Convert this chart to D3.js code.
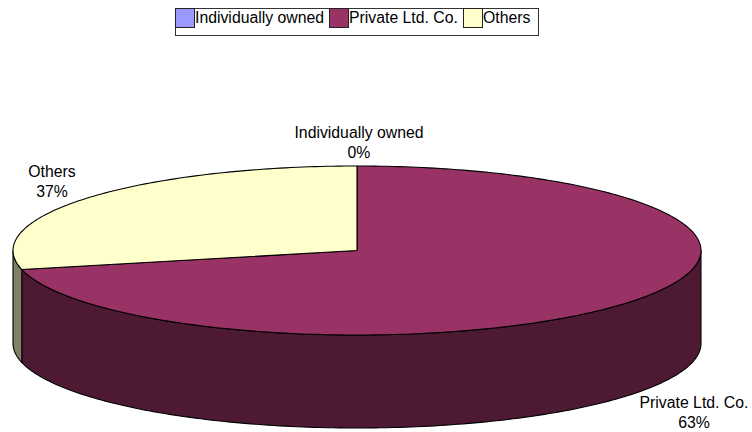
<!DOCTYPE html>
<html><head><meta charset="utf-8">
<script src="https://cdn.jsdelivr.net/npm/d3@7"></script>
<style>html,body{margin:0;padding:0;background:#fff}svg{display:block}text{font-family:"Liberation Sans",Arial,sans-serif;fill:#000}</style>
</head><body><svg id="c" width="752" height="432"></svg>
<script>
const categories = ["Individually owned", "Private Ltd. Co.", "Others"];
const percents = [0, 63, 37];
const topColors = ["#9999FF", "#993366", "#FFFFCC"];
const sideColors = ["#4D4D80", "#4D1933", "#808066"];

const cx = 357, cy = 250.5, rx = 344, ry = 84.5, depth = 93;
const fs = 15.8;
const svg = d3.select("#c");

// Tilted-pie projection: cumulative percent to drawn angle (degrees clockwise from top)
const sweep = d3.scaleLinear().domain([0, 63, 100]).range([0, 257, 360]);
const rad = d => d * Math.PI / 180;
const pX = a => cx + rx * Math.sin(rad(a));
const pY = a => cy - ry * Math.cos(rad(a));
const line = d3.line();

function arcPts(a0, a1, dy) {
  const n = Math.max(2, Math.ceil(Math.abs(a1 - a0)));
  return d3.range(n + 1).map(i => {
    const a = a0 + (a1 - a0) * i / n;
    return [pX(a), pY(a) + dy];
  });
}

let acc = 0;
const slices = percents.map((v, i) => {
  const s = { i, a0: sweep(acc), a1: sweep(acc + v) };
  acc += v;
  return s;
});

const stroke = { stroke: "#000", "stroke-width": 1.1, "stroke-linejoin": "round" };
function applyStroke(sel) { Object.entries(stroke).forEach(([k, v]) => sel.attr(k, v)); return sel; }

// walls, visible on the front half only
slices.forEach(s => {
  const a0 = Math.max(s.a0, 90), a1 = Math.min(s.a1, 270);
  if (a1 <= a0) return;
  const pts = arcPts(a0, a1, 0).concat(arcPts(a1, a0, depth));
  applyStroke(svg.append("path").attr("d", line(pts) + "Z").attr("fill", sideColors[s.i]));
});

// top faces
slices.forEach(s => {
  if (s.a1 <= s.a0) return;
  const pts = [[cx, cy]].concat(arcPts(s.a0, s.a1, 0));
  applyStroke(svg.append("path").attr("d", line(pts) + "Z").attr("fill", topColors[s.i]));
});

// data labels
const labelX = [359, 694, 52];
const labelY = [138, 408, 177];
categories.forEach((c, i) => {
  const t = svg.append("text").attr("text-anchor", "middle").attr("font-size", fs);
  t.append("tspan").attr("x", labelX[i]).attr("y", labelY[i]).text(c);
  t.append("tspan").attr("x", labelX[i]).attr("y", labelY[i] + 20).text(percents[i] + "%");
});

// legend
svg.append("rect").attr("x", 175.5).attr("y", 8.5).attr("width", 363).attr("height", 27)
  .attr("fill", "#fff").attr("stroke", "#333").attr("stroke-width", 1);
const swatchX = [175.5, 329.5, 463.5];
const legendTextX = [195, 349, 483];
categories.forEach((c, i) => {
  svg.append("rect").attr("x", swatchX[i]).attr("y", 8.5).attr("width", 19).attr("height", 19)
    .attr("fill", topColors[i]).attr("stroke", "#222").attr("stroke-width", 1);
  svg.append("text").attr("x", legendTextX[i]).attr("y", 23).attr("font-size", fs).text(c);
});
</script></body></html>
